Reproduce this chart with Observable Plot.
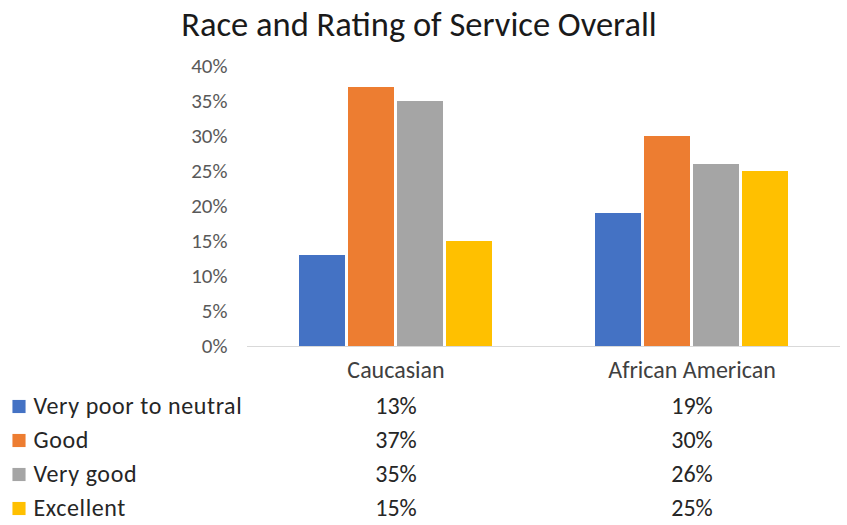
<!DOCTYPE html>
<html>
<head>
<meta charset="utf-8">
<script src="https://cdn.jsdelivr.net/npm/d3@7"></script>
<script src="https://cdn.jsdelivr.net/npm/@observablehq/plot@0.6"></script>
<style>
  html, body { margin: 0; padding: 0; background: #fff; }
  #wrap { position: relative; width: 847px; height: 525px; overflow: hidden; font-family: Carlito, Lato, sans-serif; }
  #title { position: absolute; left: 0; width: 838px; top: 3px; text-align: center; font-size: 34.5px; color: #1a1a1a; white-space: nowrap; }
  #chart { position: absolute; left: 0; top: 50px; width: 847px; height: 340px; }
  #table { position: absolute; left: 0; top: 388px; width: 847px; height: 137px; }
  #wrap svg { position: absolute; left: 0; top: 0; max-width: none !important; overflow: visible; }
  .rowlabel text { letter-spacing: 0.6px; }
</style>
</head>
<body>
<div id="wrap">
  <div id="title">Race and Rating of Service Overall</div>
  <div id="chart"></div>
  <div id="table"></div>
</div>
<script>
const races = ["Caucasian", "African American"];
const ratings = ["Very poor to neutral", "Good", "Very good", "Excellent"];
const caucasian = [0.13, 0.37, 0.35, 0.15];
const africanAmerican = [0.19, 0.30, 0.26, 0.25];
const colors = ["#4472C4", "#ED7D31", "#A5A5A5", "#FFC000"];
const yTicks = [0, 0.05, 0.10, 0.15, 0.20, 0.25, 0.30, 0.35, 0.40];

const seriesByRace = {"Caucasian": caucasian, "African American": africanAmerican};
const data = [];
for (const race of races) {
  ratings.forEach((r, i) => data.push({race, rating: r, value: seriesByRace[race][i]}));
}
const fmt = d3.format(".0%");
const font = "Carlito, Lato, sans-serif";

const base = Plot.plot({
  width: 847, height: 340, marginLeft: 247, marginRight: 7, marginTop: 16, marginBottom: 44,
  style: {background: "transparent", fontFamily: font},
  y: {domain: [0, 0.4], label: null},
  marks: [
    Plot.axisY({ticks: yTicks, tickFormat: fmt, tickSize: 0, tickPadding: 20, fontSize: 21, fill: "#595959", label: null}),
    Plot.ruleY([0], {stroke: "#D9D9D9", strokeWidth: 1})
  ]
});

const chart = Plot.plot({
  width: 847,
  height: 340,
  marginLeft: 247,
  marginRight: 7,
  marginTop: 16,
  marginBottom: 44,
  style: {fontFamily: font, background: "transparent"},
  fx: {domain: races, paddingInner: 0.34, paddingOuter: 0.17, label: null},
  x: {domain: ratings, paddingInner: 0.06, paddingOuter: 0, axis: null},
  y: {domain: [0, 0.4], axis: null},
  color: {domain: ratings, range: colors},
  marks: [
    Plot.axisFx({anchor: "bottom", tickSize: 0, tickPadding: 14, fontSize: 24, fill: "#404040", label: null}),
    Plot.barY(data, {fx: "race", x: "rating", y: "value", fill: "rating"})
  ]
});
const chartDiv = document.getElementById("chart");
chartDiv.appendChild(base);
chartDiv.appendChild(chart);

const table = Plot.plot({
  width: 847,
  height: 137,
  marginLeft: 0,
  marginRight: 0,
  marginTop: 0,
  marginBottom: 0,
  style: {fontFamily: font, background: "transparent"},
  x: {type: "band", domain: races, range: [247, 840], paddingInner: 0.34, paddingOuter: 0.17, axis: null},
  y: {type: "band", domain: ratings, padding: 0, axis: null},
  color: {domain: ratings, range: colors},
  marks: [
    Plot.ruleY(ratings.slice(0, 3), {y: d => d, dy: 17, x1: 0, x2: 847, stroke: "#D9D9D9", strokeWidth: 1}),
    Plot.dot(ratings, {y: d => d, frameAnchor: "left", dx: 18.5, symbol: "square", r: 7.4, fill: d => d}),
    Plot.text(ratings, {y: d => d, text: d => d, frameAnchor: "left", dx: 33, textAnchor: "start", fontSize: 24, fill: "#262626", className: "rowlabel"}),
    Plot.text(data, {x: "race", y: "rating", text: d => fmt(d.value), fontSize: 24, fill: "#262626"})
  ]
});
document.getElementById("table").appendChild(table);
</script>
</body>
</html>
